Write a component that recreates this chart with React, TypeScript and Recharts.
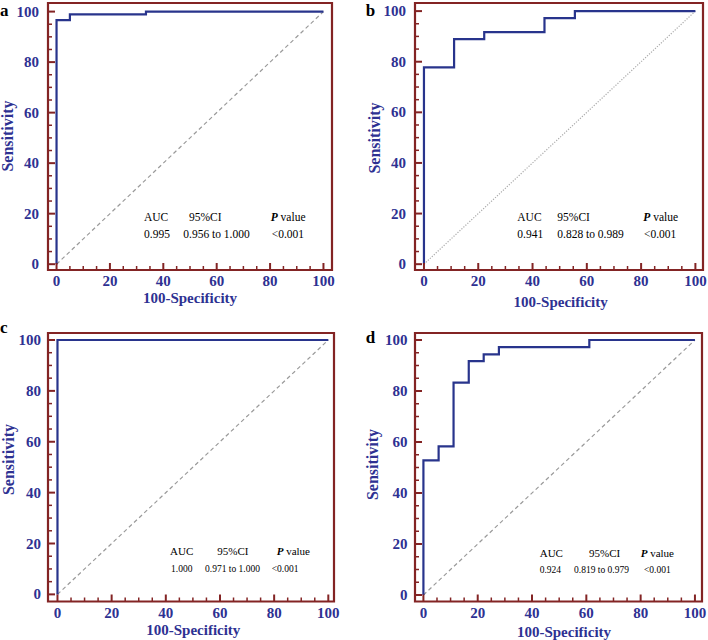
import React from 'react';
import { LineChart, Line, XAxis, YAxis, ReferenceArea } from 'recharts';

// ---------- data ----------
const axisTicks = [0, 5, 10, 15, 20, 25, 30, 35, 40, 45, 50, 55, 60, 65, 70, 75, 80, 85, 90, 95, 100];
const majorTicks = [0, 20, 40, 60, 80, 100];

const diagonal = [
  { x: 0, y: 0 },
  { x: 100, y: 100 },
];

const rocA = [
  { x: 0, y: 0 },
  { x: 0, y: 96.6 },
  { x: 5, y: 98.9 },
  { x: 33.5, y: 100 },
  { x: 100, y: 100 },
];
const rocB = [
  { x: 0, y: 0 },
  { x: 0, y: 77.8 },
  { x: 11.1, y: 88.9 },
  { x: 22.2, y: 91.7 },
  { x: 44.4, y: 97.2 },
  { x: 55.6, y: 100 },
  { x: 100, y: 100 },
];
const rocC = [
  { x: 0, y: 0 },
  { x: 0, y: 100 },
  { x: 100, y: 100 },
];
const rocD = [
  { x: 0, y: 0 },
  { x: 0, y: 52.8 },
  { x: 5.6, y: 58.3 },
  { x: 11.1, y: 83.3 },
  { x: 16.7, y: 91.7 },
  { x: 22.2, y: 94.4 },
  { x: 27.8, y: 97.2 },
  { x: 61.1, y: 100 },
  { x: 100, y: 100 },
];

const statsA = ['0.995', '0.956 to 1.000', '<0.001'];
const statsB = ['0.941', '0.828 to 0.989', '<0.001'];
const statsC = ['1.000', '0.971 to 1.000', '<0.001'];
const statsD = ['0.924', '0.819 to 0.979', '<0.001'];

// ---------- styles ----------
const SERIF = "'Times New Roman', 'Liberation Serif', serif";
const FRAME = '#832424';
const NAVY = '#2E3192';
const ROC = '#28348C';

const XTick = (props: any) => {
  const { x, y, payload } = props;
  const v = payload.value;
  const major = majorTicks.includes(v);
  return (
    <g>
      <line x1={x} x2={x} y1={y} y2={y - (major ? 7 : 4)} stroke={FRAME} strokeWidth={major ? 2 : 1.5} />
      {major && (
        <text x={x} y={y + 16} textAnchor="middle" fill={NAVY} fontSize={15} fontWeight="bold" fontFamily={SERIF}>
          {v}
        </text>
      )}
    </g>
  );
};

const makeYTick = (gap: number) => (props: any) => {
  const { x, y, payload } = props;
  const v = payload.value;
  const major = majorTicks.includes(v);
  return (
    <g>
      <line x1={x} x2={x + (major ? 7 : 4)} y1={y} y2={y} stroke={FRAME} strokeWidth={major ? 2 : 1.5} />
      {major && (
        <text x={x - gap} y={y + 5} textAnchor="end" fill={NAVY} fontSize={15} fontWeight="bold" fontFamily={SERIF}>
          {v}
        </text>
      )}
    </g>
  );
};

type PanelProps = {
  left: number;
  top: number;
  letter: string;
  letterPos: [number, number];
  roc: { x: number; y: number }[];
  stats: string[];
  margin: { top: number; right: number; left: number; bottom: number };
  yAxisWidth: number;
  xAxisHeight: number;
  xDomain: [number, number];
  yDomain: [number, number];
  yGap: number;
  sensPos: [number, number];
  specPos: [number, number];
  headX: number[];
  valX: number[];
  headY: number;
  valY: number;
  headSize: number;
  valSize: number;
  diagDash: string;
  diagColor: string;
};

const Panel = (p: PanelProps) => {
  const YTick = makeYTick(p.yGap);
  return (
    <div style={{ position: 'absolute', left: p.left, top: p.top, width: 354, height: 320 }}>
      <LineChart width={354} height={320} margin={p.margin}>
        <XAxis
          type="number"
          dataKey="x"
          domain={p.xDomain}
          ticks={axisTicks}
          interval={0}
          allowDataOverflow
          height={p.xAxisHeight}
          tickLine={false}
          axisLine={false}
          tickSize={0}
          tickMargin={0}
          tick={(tp: any) => <XTick {...tp} />}
        />
        <YAxis
          type="number"
          dataKey="y"
          domain={p.yDomain}
          ticks={axisTicks}
          interval={0}
          allowDataOverflow
          width={p.yAxisWidth}
          tickLine={false}
          axisLine={false}
          tickSize={0}
          tickMargin={0}
          tick={(tp: any) => <YTick {...tp} />}
        />
        <ReferenceArea
          x1={p.xDomain[0]}
          x2={p.xDomain[1]}
          y1={p.yDomain[0]}
          y2={p.yDomain[1]}
          fill="#ffffff"
          fillOpacity={0}
          stroke={FRAME}
          strokeWidth={2.2}
          ifOverflow="visible"
        />
        <Line
          data={diagonal}
          dataKey="y"
          type="linear"
          stroke={p.diagColor}
          strokeWidth={1.2}
          strokeDasharray={p.diagDash}
          dot={false}
          activeDot={false}
          isAnimationActive={false}
        />
        <Line
          data={p.roc}
          dataKey="y"
          type="stepAfter"
          stroke={ROC}
          strokeWidth={2.2}
          dot={false}
          activeDot={false}
          isAnimationActive={false}
        />
      </LineChart>
      <svg
        width={354}
        height={320}
        style={{ position: 'absolute', left: 0, top: 0, pointerEvents: 'none', overflow: 'visible' }}
      >
        <text x={p.letterPos[0]} y={p.letterPos[1]} fontSize={17} fontWeight="bold" fontFamily={SERIF} fill="#000">
          {p.letter}
        </text>
        <text
          x={p.sensPos[0]}
          y={p.sensPos[1]}
          transform={`rotate(-90, ${p.sensPos[0]}, ${p.sensPos[1]})`}
          textAnchor="middle"
          fontSize={16}
          fontWeight="bold"
          fontFamily={SERIF}
          fill={NAVY}
        >
          Sensitivity
        </text>
        <text
          x={p.specPos[0]}
          y={p.specPos[1]}
          textAnchor="middle"
          fontSize={15}
          fontWeight="bold"
          fontFamily={SERIF}
          fill={NAVY}
        >
          100-Specificity
        </text>
        <g fontFamily={SERIF} fill="#000">
          <text x={p.headX[0]} y={p.headY} fontSize={p.headSize}>AUC</text>
          <text x={p.headX[1]} y={p.headY} fontSize={p.headSize}>95%CI</text>
          <text x={p.headX[2]} y={p.headY} fontSize={p.headSize}>
            <tspan fontStyle="italic" fontWeight="bold">P</tspan> value
          </text>
          {p.stats.map((s, i) => (
            <text key={i} x={p.valX[i]} y={p.valY} fontSize={p.valSize}>
              {s}
            </text>
          ))}
        </g>
      </svg>
    </div>
  );
};

export default function App() {
  return (
    <div style={{ position: 'absolute', left: 0, top: 0, width: 708, height: 640, background: '#fff' }}>
      <Panel
        left={0}
        top={0}
        letter="a"
        letterPos={[0, 16]}
        roc={rocA}
        stats={statsA}
        margin={{ top: 3, right: 22, left: 0, bottom: 0 }}
        yAxisWidth={48}
        xAxisHeight={50}
        xDomain={[-3.2, 103.2]}
        yDomain={[-2.3, 103.4]}
        yGap={9}
        sensPos={[12.5, 136]}
        specPos={[190, 303]}
        headX={[144, 189, 270.7]}
        valX={[144, 183.3, 271.7]}
        headY={221}
        valY={238}
        headSize={11.5}
        valSize={11.5}
        diagDash="4 3"
        diagColor="#9a9a9a"
      />
      <Panel
        left={354}
        top={0}
        letter="b"
        letterPos={[11.7, 16]}
        roc={rocB}
        stats={statsB}
        margin={{ top: 3, right: 5, left: 0, bottom: 0 }}
        yAxisWidth={61}
        xAxisHeight={50}
        xDomain={[-3.3, 102.8]}
        yDomain={[-2.3, 103.2]}
        yGap={9}
        sensPos={[25.5, 138]}
        specPos={[206.7, 307]}
        headX={[163.3, 203.3, 289.3]}
        valX={[163.3, 203.3, 290]}
        headY={220.7}
        valY={238}
        headSize={11.5}
        valSize={11.5}
        diagDash="1.2 1.5"
        diagColor="#aaaaaa"
      />
      <Panel
        left={0}
        top={320}
        letter="c"
        letterPos={[0, 13.3]}
        roc={rocC}
        stats={statsC}
        margin={{ top: 13, right: 20, left: 0, bottom: 0 }}
        yAxisWidth={48}
        xAxisHeight={38.5}
        xDomain={[-3.5, 102.1]}
        yDomain={[-2.8, 102.75]}
        yGap={7}
        sensPos={[13.5, 139.5]}
        specPos={[193.3, 315]}
        headX={[170, 217.3, 276.7]}
        valX={[171, 205, 271.7]}
        headY={235.3}
        valY={252}
        headSize={11}
        valSize={9.5}
        diagDash="4 3"
        diagColor="#9a9a9a"
      />
      <Panel
        left={354}
        top={320}
        letter="d"
        letterPos={[11.7, 23]}
        roc={rocD}
        stats={statsD}
        margin={{ top: 13, right: 6, left: 0, bottom: 0 }}
        yAxisWidth={61}
        xAxisHeight={38.5}
        xDomain={[-3.1, 102.6]}
        yDomain={[-2.55, 102.75]}
        yGap={7.5}
        sensPos={[23.5, 144.5]}
        specPos={[210, 317]}
        headX={[185.7, 235, 286.7]}
        valX={[185.7, 220, 290]}
        headY={236.7}
        valY={253.3}
        headSize={11}
        valSize={9.5}
        diagDash="4 3"
        diagColor="#9a9a9a"
      />
    </div>
  );
}
